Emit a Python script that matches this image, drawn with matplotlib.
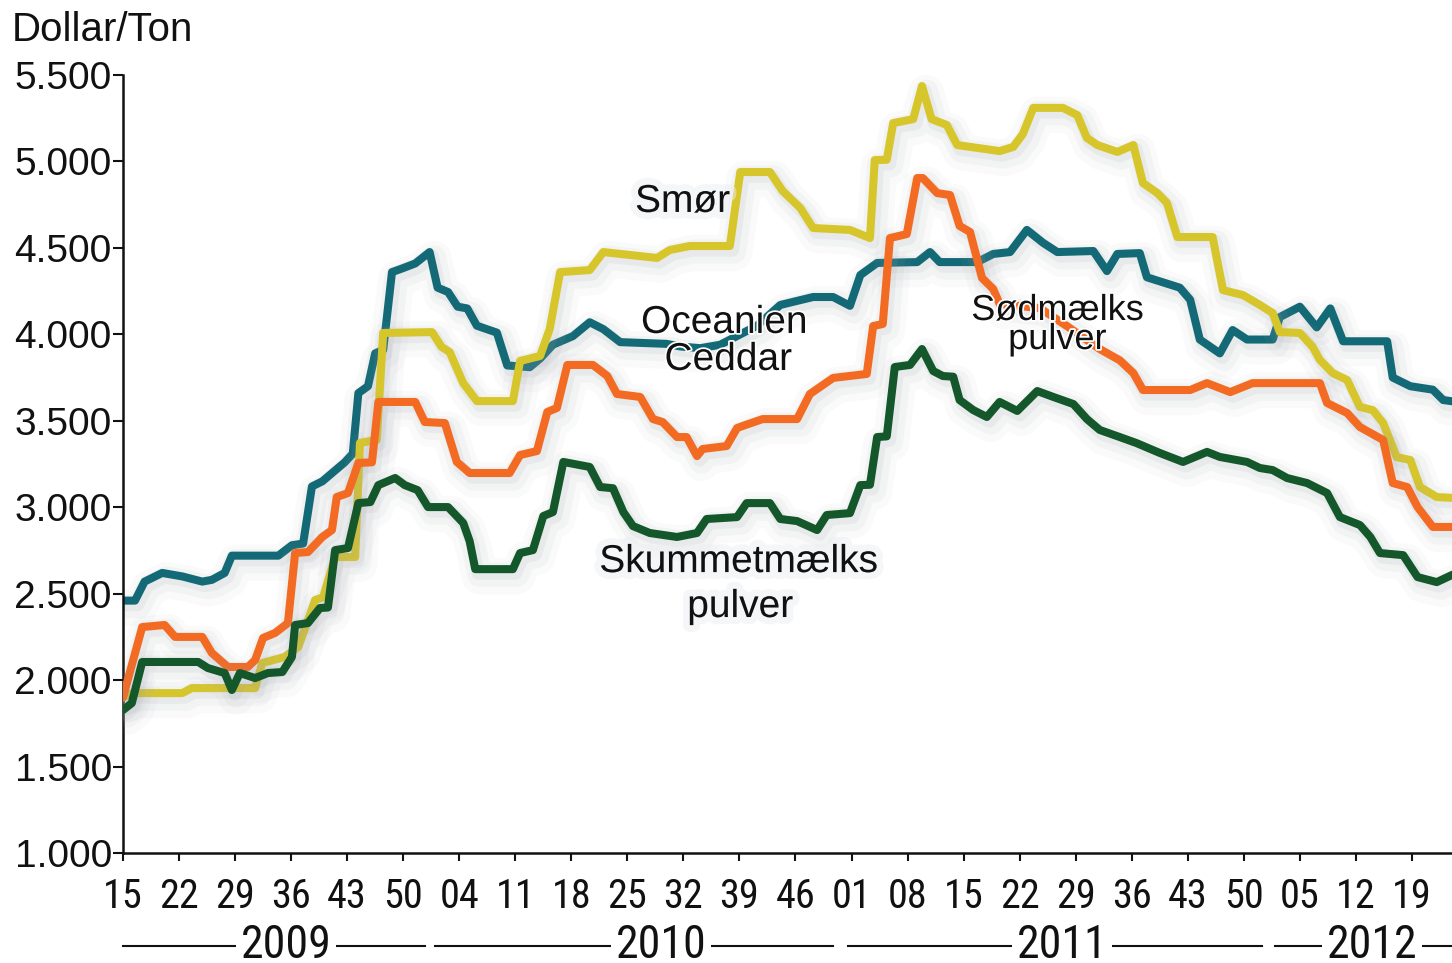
import matplotlib
matplotlib.use("Agg")
import matplotlib.pyplot as plt
import matplotlib.patheffects as pe
from matplotlib import font_manager
from matplotlib.font_manager import FontProperties
from matplotlib.transforms import blended_transform_factory

# week index 0 = 2009 week 15, one step per week
weeks_ocean = [0, 1.5, 2.7, 4.9, 7.4, 9.9, 11.1, 12.7, 13.6, 19.4, 21.1, 22.5, 23.6, 24.9, 27.7, 28.7,
               29.4, 30.6, 31.5, 32.5, 33.6, 34.8, 36.5, 38.3, 39.3, 40.6, 41.8, 43.0, 44.2, 46.7, 48.0,
               50.8, 52.1, 53.7, 56.2, 58.3, 60.0, 62.1, 67.9, 69.6, 72.1, 74.6, 77.1, 79.2, 82.1, 86.2,
               88.7, 90.8, 92.1, 94.2, 99.2, 100.8, 102.0, 106.7, 108.7, 110.8, 112.9, 114.9, 116.7,
               121.2, 122.9, 124.2, 127.0, 127.9, 132.0, 133.3, 134.5, 137.0, 138.6, 140.4, 143.6,
               144.5, 147.0, 149.1, 150.8, 152.4, 157.9, 158.6, 160.8, 163.6, 164.9, 166.5]
ocean = [2460, 2460, 2570, 2620, 2600, 2570, 2580, 2620, 2720, 2720, 2780, 2790, 3120, 3150, 3260, 3310,
         3660, 3700, 3890, 3910, 4360, 4380, 4410, 4476, 4270, 4245, 4160, 4150, 4050, 4010, 3820,
         3810, 3860, 3940, 3990, 4070, 4030, 3955, 3945, 3930, 3920, 3940, 4000, 4050, 4170, 4216,
         4216, 4165, 4343, 4413, 4418, 4476, 4418, 4418, 4465, 4476, 4604, 4530, 4476,
         4482, 4366, 4465, 4470, 4330, 4270, 4200, 3970, 3890, 4025, 3970, 3970,
         4100, 4160, 4040, 4150, 3960, 3960, 3750, 3700, 3680, 3620, 3610]

weeks_smoer = [0, 1.2, 7.4, 8.6, 16.5, 17.4, 20.2, 21.9, 24.0, 25.0, 26.5, 29.0, 29.6, 31.7, 32.5, 38.6,
               39.8, 40.8, 42.5, 44.2, 48.7, 49.6, 52.1, 53.3, 54.6, 58.3, 60.0, 66.7, 68.3, 70.8,
               75.8, 77.1, 80.8, 82.4, 84.6, 86.2, 90.8, 93.3, 93.9, 95.4, 96.2, 98.7, 99.8, 101.0,
               102.9, 104.2, 109.5, 111.2, 112.4, 113.7, 117.4, 119.2, 120.4, 121.7, 124.2, 126.2,
               127.4, 129.2, 130.4, 131.7, 136.1, 137.4, 139.9, 142.0, 143.6, 144.5, 147.0, 148.6,
               149.5, 151.1, 152.9, 154.5, 156.1, 157.4, 159.1, 160.8, 162.0, 164.1, 166.5]
smoer = [1900, 1925, 1925, 1954, 1954, 2099, 2134, 2192, 2463, 2480, 2712, 2712, 3372, 3389, 4008, 4013,
         3927, 3898, 3718, 3614, 3614, 3846, 3875, 4031, 4360, 4372, 4476, 4442, 4488, 4511,
         4511, 4939, 4939, 4829, 4731, 4615, 4604, 4557, 5008, 5010, 5222, 5245, 5436, 5245,
         5211, 5095, 5060, 5084, 5159, 5310, 5310, 5268, 5136, 5095, 5055, 5095,
         4875, 4817, 4760, 4563, 4563, 4256, 4227, 4170, 4123, 4013, 4008, 3927,
         3852, 3776, 3736, 3580, 3562, 3487, 3290, 3273, 3117, 3059, 3053]

weeks_soed = [0, 2.4, 5.2, 6.5, 9.9, 11.1, 13.1, 15.6, 16.5, 17.5, 19.0, 20.6, 21.5, 23.1, 24.9, 26.1,
              26.7, 28.1, 29.4, 31.1, 31.9, 36.5, 37.7, 40.2, 41.7, 43.3, 48.3, 49.6, 51.7, 53.0, 54.2,
              55.5, 58.7, 60.5, 61.7, 64.6, 66.2, 67.4, 69.2, 70.4, 71.7, 72.4, 75.4, 76.7, 77.4, 79.9,
              84.2, 85.8, 88.7, 92.9, 93.7, 94.9, 95.8, 97.9, 99.2, 99.9, 101.7, 103.3, 104.5, 105.8,
              107.3, 108.7, 109.5, 114.5, 117.9, 122.0, 124.5, 126.2, 127.4, 133.3, 135.4, 138.3,
              141.1, 149.5, 150.4, 152.9, 154.5, 157.4, 158.6, 160.4, 161.7, 163.6, 166.5]
soed = [1900, 2307, 2319, 2250, 2250, 2157, 2076, 2076, 2116, 2244, 2273, 2330, 2735, 2741, 2828, 2868,
        3059, 3082, 3256, 3260, 3609, 3609, 3493, 3487, 3262, 3198, 3198, 3302, 3325, 3551, 3574,
        3823, 3823, 3759, 3655, 3638, 3510, 3493, 3406, 3406, 3296, 3337, 3354, 3458, 3470, 3510,
        3510, 3655, 3748, 3771, 4048, 4060, 4557, 4580, 4904, 4904, 4817, 4806, 4627, 4592,
        4326, 4262, 4176, 4152, 4048, 3915, 3850, 3776, 3678, 3678, 3718, 3666,
        3718, 3718, 3603, 3545, 3464, 3389, 3140, 3117, 3001, 2886, 2886]

weeks_skum = [0, 1.1, 2.4, 9.4, 10.6, 12.7, 13.6, 14.6, 16.5, 18.1, 19.9, 21.1, 21.5, 23.1, 24.6, 25.6,
              26.5, 28.1, 29.4, 30.9, 31.9, 34.0, 35.2, 36.8, 38.1, 40.6, 42.5, 43.3, 44.0, 48.7, 49.6,
              51.2, 52.5, 53.7, 55.0, 58.3, 59.6, 61.2, 62.5, 63.7, 65.8, 69.2, 71.7, 72.9, 76.7, 77.9,
              80.8, 82.1, 84.2, 86.7, 87.9, 90.8, 92.1, 93.3, 94.2, 95.4, 96.4, 98.3, 99.8, 101.2,
              102.4, 103.7, 104.5, 106.2, 107.9, 109.5, 111.7, 114.2, 116.2, 118.7, 120.4, 122.0,
              124.5, 126.6, 129.5, 132.4, 135.4, 137.0, 140.4, 142.0, 143.6, 145.4, 147.9, 150.4,
              152.0, 154.5, 155.8, 157.0, 159.9, 161.7, 164.1, 166.5]
skum = [1827, 1867, 2105, 2105, 2070, 2041, 1943, 2041, 2012, 2041, 2047, 2134, 2319, 2330, 2417, 2420,
        2752, 2764, 3024, 3030, 3128, 3169, 3128, 3099, 3001, 3001, 2909, 2804, 2642, 2642, 2735,
        2752, 2949, 2972, 3262, 3233, 3117, 3110, 2972, 2891, 2851, 2828, 2851, 2932, 2943, 3024,
        3024, 2932, 2920, 2868, 2955, 2966, 3128, 3130, 3406, 3410, 3811, 3823, 3915, 3788,
        3759, 3755, 3620, 3562, 3522, 3609, 3557, 3672, 3638, 3597, 3510, 3447,
        3406, 3371, 3314, 3262, 3320, 3291, 3262, 3227, 3215, 3169, 3140, 3082,
        2943, 2897, 2828, 2735, 2723, 2596, 2567, 2619]

tick_weeks = list(range(0, 162, 7))
tick_labels = ['15', '22', '29', '36', '43', '50',
               '04', '11', '18', '25', '32', '39', '46',
               '01', '08', '15', '22', '29', '36', '43', '50',
               '05', '12', '19']
y_ticks = [1000, 1500, 2000, 2500, 3000, 3500, 4000, 4500, 5000, 5500]

years = ['2009', '2010', '2011', '2012']
year_spans = [(0, 37.7), (39, 88.7), (90.6, 142.3), (143.9, 166)]
year_label_weeks = [20.4, 67.2, 117.3, 156]

available = {f.name for f in font_manager.fontManager.ttflist}
regular = 'Liberation Sans' if 'Liberation Sans' in available else 'DejaVu Sans'


def find_condensed():
    # look for any upright, regular-weight narrow/condensed face
    prefs = ['Liberation Sans Narrow', 'Roboto Condensed', 'Open Sans Condensed', 'Noto Sans Condensed',
             'DejaVu Sans Condensed', 'DejaVu Sans']
    best = None
    for f in font_manager.fontManager.ttflist:
        tag = (f.name + ' ' + str(f.stretch) + ' ' + f.fname).lower()
        if not ('narrow' in tag or 'condensed' in tag):
            continue
        if f.style != 'normal' or 'bold' in f.fname.lower() or 'oblique' in f.fname.lower():
            continue
        if isinstance(f.weight, int) and f.weight > 500:
            continue
        if 'semi' in f.fname.lower() or 'extra' in f.fname.lower() or 'light' in f.fname.lower():
            continue
        rank = len(prefs)
        for i, p in enumerate(prefs):
            if p.lower() in (f.name + ' condensed' if 'condensed' in tag else f.name).lower():
                rank = i
                break
        if best is None or rank < best[0]:
            best = (rank, f.fname)
    return best[1] if best else None


cond_file = find_condensed()


def narrow_font(size):
    if cond_file:
        return FontProperties(fname=cond_file, size=size)
    return FontProperties(family=regular, size=size * 0.8)


teal = '#136a76'
yellow = '#d7c62b'
orange = '#f36b23'
green = '#13572a'
lw = 5.8

fig = plt.figure(figsize=(14.52, 9.63), dpi=100)
ax = fig.add_axes([0.0847, 0.1142, 0.9153, 0.8079])


def line_fx():
    return [pe.SimpleLineShadow(offset=(3, -5), shadow_color='#9ea4ad', alpha=0.05, linewidth=lw * 4.5),
            pe.SimpleLineShadow(offset=(3, -4), shadow_color='#9ea4ad', alpha=0.08, linewidth=lw * 3),
            pe.SimpleLineShadow(offset=(2, -3), shadow_color='#9ea4ad', alpha=0.12, linewidth=lw * 1.6),
            pe.Normal()]


for w, p, c, z in [(weeks_ocean, ocean, teal, 2), (weeks_smoer, smoer, yellow, 3),
                   (weeks_soed, soed, orange, 4), (weeks_skum, skum, green, 5)]:
    ln, = ax.plot(w, p, color=c, lw=lw, zorder=z, solid_joinstyle='round', solid_capstyle='round')
    ln.set_path_effects(line_fx())

ax.set_xlim(0, 166)
ax.set_ylim(1000, 5500)
for s in ['top', 'right']:
    ax.spines[s].set_visible(False)
for s in ['left', 'bottom']:
    ax.spines[s].set_linewidth(1.8)
    ax.spines[s].set_color('#111111')

ax.set_yticks(y_ticks)
ax.set_yticklabels([f'{v:,}'.replace(',', '.') for v in y_ticks])
ax.set_xticks(tick_weeks)
ax.set_xticklabels(tick_labels)
ax.tick_params(axis='y', length=7, width=1.5, pad=1, labelsize=28, colors='#111111')
ax.tick_params(axis='x', length=6, width=1.5, pad=11, colors='#111111')
for lab in ax.get_yticklabels():
    lab.set_fontfamily(regular)
for lab in ax.get_xticklabels():
    lab.set_fontproperties(narrow_font(29))

text_fx = [pe.withStroke(linewidth=10, foreground='#eceef0', alpha=0.5)]
halo_fx = [pe.withStroke(linewidth=2.5, foreground='white')]

labels = [('Smør', 69.9, 4708, 28, text_fx), ('Oceanien', 75.1, 4008, 28, halo_fx),
          ('Ceddar', 75.6, 3794, 28, halo_fx), ('Skummetmælks', 76.9, 2625, 28, text_fx),
          ('pulver', 77.1, 2365, 28, text_fx), ('Sødmælks', 116.7, 4083, 26, halo_fx),
          ('pulver', 116.7, 3915, 26, halo_fx)]
for txt, xw, yv, fs, fx in labels:
    ax.text(xw, yv, txt, ha='center', va='baseline', fontsize=fs, family=regular,
            color='#111111', zorder=10, path_effects=fx)

fig.text(0.0083, 0.9574, 'Dollar/Ton', ha='left', va='baseline', fontsize=29, family=regular,
         color='#111111')

trans = blended_transform_factory(ax.transData, ax.transAxes)
for yr, (a, b), xm in zip(years, year_spans, year_label_weeks):
    ax.plot([a, b], [-0.1195, -0.1195], transform=trans, color='#111111', lw=1.5, clip_on=False)
    ax.text(xm, -0.1355, yr, transform=trans, ha='center', va='baseline', fontproperties=narrow_font(33),
            color='#111111', bbox=dict(boxstyle='square,pad=0.1', fc='white', ec='none'))

fig.savefig('out.png', dpi=100)
